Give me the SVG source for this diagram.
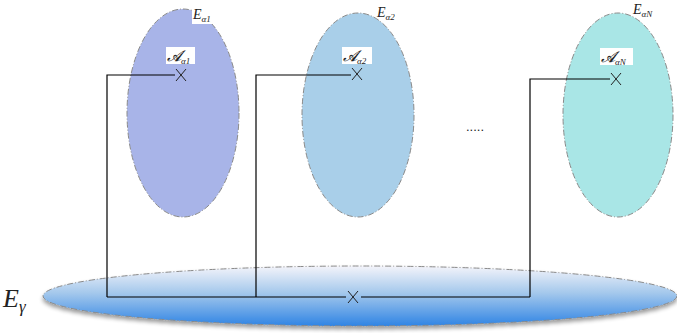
<svg xmlns="http://www.w3.org/2000/svg" width="677" height="333" viewBox="0 0 677 333">
<defs>
<linearGradient id="g" x1="0" y1="0" x2="0" y2="1">
<stop offset="0" stop-color="#f4f4fa"/>
<stop offset="0.45" stop-color="#a4c8ec"/>
<stop offset="1" stop-color="#2f84e4"/>
</linearGradient>
<filter id="sh" x="-10%" y="-30%" width="120%" height="170%">
<feGaussianBlur in="SourceAlpha" stdDeviation="2"/>
<feOffset dx="0" dy="3" result="b"/>
<feComponentTransfer><feFuncA type="linear" slope="0.4"/></feComponentTransfer>
<feMerge><feMergeNode/><feMergeNode in="SourceGraphic"/></feMerge>
</filter>
</defs>
<style>
.el{stroke:#8a8a8a;stroke-width:1;stroke-dasharray:6 2 1 2}
.ln{fill:none;stroke:#000;stroke-width:1.2}
.x{fill:none;stroke:#222;stroke-width:1}
.m{font-family:"Liberation Serif","DejaVu Serif",serif;font-style:italic;fill:#222}
.s{font-size:9px}
.lab{fill:#fff}
</style>
<g id="base">
<ellipse cx="360" cy="296" rx="317" ry="30" fill="url(#g)" class="el" filter="url(#sh)"/>
<text x="3" y="307" class="m" font-size="26">E<tspan font-size="17" dy="5">γ</tspan></text>
</g>
<g id="node1">
<ellipse cx="183" cy="113" rx="56" ry="104" fill="#a8b4e8" class="el"/>
<rect x="192" y="4" width="28" height="20" class="lab"/>
<text x="193" y="19" class="m" font-size="14">E<tspan class="s" dy="3">α1</tspan></text>
<rect x="166" y="47" width="29" height="17" class="lab"/>
<text x="167" y="61" class="m" font-size="15">𝓐<tspan class="s" dy="3">α1</tspan></text>
</g>
<g id="node2">
<ellipse cx="358" cy="115" rx="56" ry="102" fill="#a9cfe9" class="el"/>
<text x="377" y="17" class="m" font-size="14">E<tspan class="s" dy="3">α2</tspan></text>
<rect x="342" y="47" width="30" height="17" class="lab"/>
<text x="343" y="61" class="m" font-size="15">𝓐<tspan class="s" dy="3">α2</tspan></text>
</g>
<g id="nodeN">
<ellipse cx="618" cy="115" rx="55" ry="102" fill="#a9e6e6" class="el"/>
<text x="633" y="14" class="m" font-size="14">E<tspan class="s" dy="3">αN</tspan></text>
<rect x="600" y="48" width="33" height="17" class="lab"/>
<text x="601" y="62" class="m" font-size="15">𝓐<tspan class="s" dy="3">αN</tspan></text>
</g>
<text x="466" y="131" font-family="Liberation Sans,sans-serif" font-size="13" fill="#222">.....</text>
<g id="connectors">
<path class="ln" d="M107 297 V75 H175 M256 297 V75 H351 M530 297 V79 H610 M107 297 H346 M361 297 H530"/>
<path class="x" d="M176 69 L186 81 M186 69 L176 81 M352 68 L362 80 M362 68 L352 80 M611 73 L621 85 M621 73 L611 85 M348 291 L358 303 M358 291 L348 303"/>
</g>
</svg>
